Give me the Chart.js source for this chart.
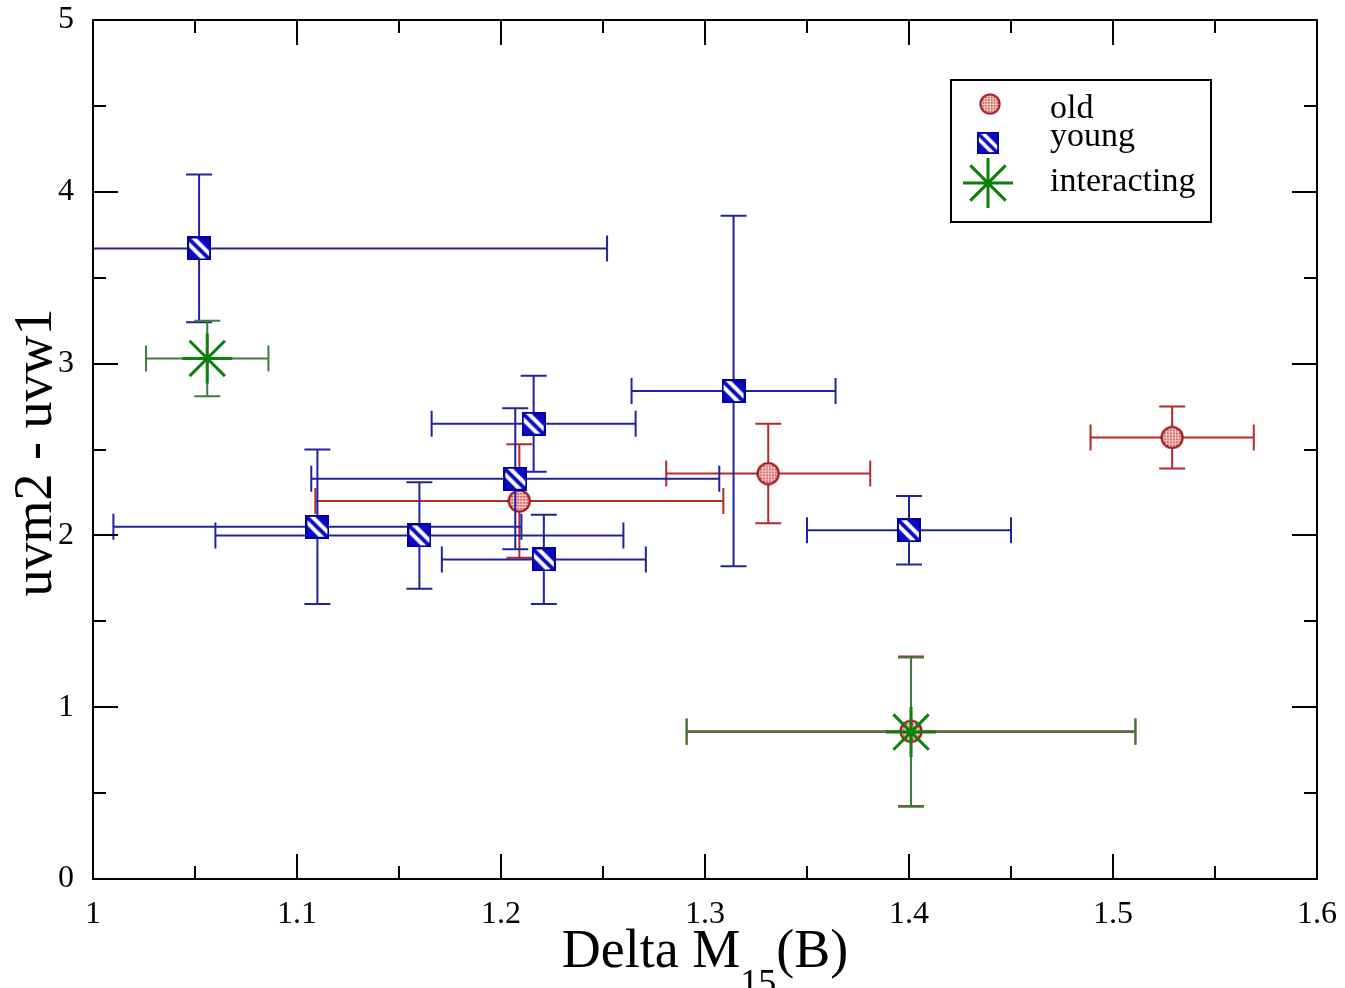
<!DOCTYPE html>
<html>
<head>
<meta charset="utf-8">
<script src="https://cdn.jsdelivr.net/npm/chart.js@4.4.1/dist/chart.umd.min.js"></script>
<style>
  body { margin: 0; background: #fff; }
  #wrap { width: 1345px; height: 988px; }
</style>
</head>
<body>
<div id="wrap"><canvas id="chart"></canvas></div>
<script>
// "old" galaxies
const oldX = [1.209, 1.331, 1.529, 1.401];
const oldY = [2.20, 2.36, 2.57, 0.86];
const oldXErr = [0.10, 0.05, 0.04, 0.11];
const oldYErr = [0.33, 0.29, 0.18, 0.435];

// "young"
const youngX = [1.052, 1.314, 1.216, 1.207, 1.110, 1.160, 1.221, 1.400];
const youngY = [3.67, 2.84, 2.65, 2.33, 2.05, 2.00, 1.86, 2.03];
const youngXErr = [0.20, 0.05, 0.05, 0.10, 0.10, 0.10, 0.05, 0.05];
const youngYErr = [0.43, 1.02, 0.28, 0.41, 0.45, 0.31, 0.26, 0.20];

// "interacting"
const interX = [1.056, 1.401];
const interY = [3.03, 0.855];
const interXErr = [0.03, 0.11];
const interYErr = [0.22, 0.435];

// axes
const xTickValues = [1, 1.1, 1.2, 1.3, 1.4, 1.5, 1.6];
const xTickLabels = ['1', '1.1', '1.2', '1.3', '1.4', '1.5', '1.6'];
const xMinorTicks = [1.05, 1.15, 1.25, 1.35, 1.45, 1.55];
const yTickValues = [0, 1, 2, 3, 4, 5];
const yTickLabels = ['0', '1', '2', '3', '4', '5'];
const yMinorTicks = [0.5, 1.5, 2.5, 3.5, 4.5];

const SERIF = '"Liberation Serif", "Times New Roman", serif';

function toPoints(xs, ys) {
  return xs.map((x, i) => ({ x: x, y: ys[i] }));
}

// dotted pink circle
function makeOldMarker() {
  const c = document.createElement('canvas');
  c.width = c.height = 24;
  const g = c.getContext('2d');
  g.beginPath();
  g.arc(12, 12, 10.5, 0, Math.PI * 2);
  g.fillStyle = '#f4cdc8';
  g.fill();
  g.save();
  g.clip();
  g.fillStyle = '#c23a3a';
  for (let i = 1; i < 24; i += 3) {
    for (let j = 1; j < 24; j += 3) g.fillRect(i, j, 1.6, 1.6);
  }
  g.restore();
  g.lineWidth = 2.2;
  g.strokeStyle = '#9e1420';
  g.stroke();
  return c;
}

// blue square with white diagonal stripes
function makeYoungMarker() {
  const c = document.createElement('canvas');
  c.width = c.height = 24;
  const g = c.getContext('2d');
  g.fillStyle = '#0a0ac4';
  g.fillRect(1, 1, 22, 22);
  g.save();
  g.beginPath();
  g.rect(1, 1, 22, 22);
  g.clip();
  g.strokeStyle = '#ffffff';
  g.lineWidth = 4;
  [-6, 5].forEach(function (k) {
    g.beginPath();
    g.moveTo(k, 0);
    g.lineTo(k + 24, 24);
    g.stroke();
  });
  g.restore();
  g.lineWidth = 2;
  g.strokeStyle = '#0000a0';
  g.strokeRect(1, 1, 22, 22);
  return c;
}

const oldMarker = makeOldMarker();
const youngMarker = makeYoungMarker();

function drawStar(ctx, x, y, r, color, width) {
  ctx.save();
  ctx.strokeStyle = color;
  ctx.lineWidth = width;
  ctx.beginPath();
  for (let k = 0; k < 4; k++) {
    const a = k * Math.PI / 4;
    ctx.moveTo(x - Math.cos(a) * r, y - Math.sin(a) * r);
    ctx.lineTo(x + Math.cos(a) * r, y + Math.sin(a) * r);
  }
  ctx.stroke();
  ctx.restore();
}

// error bars, drawn just before each dataset's markers
const errorBars = {
  id: 'errorBars',
  beforeDatasetDraw(chart, args) {
    const ds = chart.data.datasets[args.index];
    const xs = chart.scales.x, ys = chart.scales.y;
    const area = chart.chartArea;
    const ctx = chart.ctx;
    const cap = 13;
    ctx.save();
    ctx.beginPath();
    ctx.rect(area.left, area.top, area.right - area.left, area.bottom - area.top);
    ctx.clip();
    ctx.strokeStyle = ds.errColor;
    ctx.lineWidth = 2;
    ds.data.forEach(function (p, i) {
      const px = xs.getPixelForValue(p.x);
      const py = ys.getPixelForValue(p.y);
      const x0 = xs.getPixelForValue(p.x - ds.xErr[i]);
      const x1 = xs.getPixelForValue(p.x + ds.xErr[i]);
      const y0 = ys.getPixelForValue(p.y - ds.yErr[i]);
      const y1 = ys.getPixelForValue(p.y + ds.yErr[i]);
      ctx.beginPath();
      ctx.moveTo(x0, py); ctx.lineTo(x1, py);
      ctx.moveTo(x0, py - cap); ctx.lineTo(x0, py + cap);
      ctx.moveTo(x1, py - cap); ctx.lineTo(x1, py + cap);
      ctx.moveTo(px, y0); ctx.lineTo(px, y1);
      ctx.moveTo(px - cap, y0); ctx.lineTo(px + cap, y0);
      ctx.moveTo(px - cap, y1); ctx.lineTo(px + cap, y1);
      ctx.stroke();
    });
    ctx.restore();
  }
};

// frame, inward ticks on all sides, axis titles, legend box
const decorations = {
  id: 'decorations',
  afterDraw(chart) {
    const ctx = chart.ctx;
    const a = chart.chartArea;
    const xs = chart.scales.x, ys = chart.scales.y;
    const major = 25, minor = 13;

    ctx.save();
    ctx.strokeStyle = '#000';
    ctx.lineWidth = 2;
    ctx.strokeRect(a.left, a.top, a.right - a.left, a.bottom - a.top);

    ctx.beginPath();
    function xTick(v, len) {
      const p = Math.round(xs.getPixelForValue(v));
      ctx.moveTo(p, a.bottom); ctx.lineTo(p, a.bottom - len);
      ctx.moveTo(p, a.top); ctx.lineTo(p, a.top + len);
    }
    function yTick(v, len) {
      const p = Math.round(ys.getPixelForValue(v));
      ctx.moveTo(a.left, p); ctx.lineTo(a.left + len, p);
      ctx.moveTo(a.right, p); ctx.lineTo(a.right - len, p);
    }
    xTickValues.forEach(v => xTick(v, major));
    xMinorTicks.forEach(v => xTick(v, minor));
    yTickValues.forEach(v => yTick(v, major));
    yMinorTicks.forEach(v => yTick(v, minor));
    ctx.stroke();

    // y title
    ctx.fillStyle = '#000';
    ctx.save();
    ctx.translate(51, (a.top + a.bottom) / 2 + 3);
    ctx.rotate(-Math.PI / 2);
    ctx.font = '54px ' + SERIF;
    ctx.textAlign = 'center';
    ctx.textBaseline = 'alphabetic';
    ctx.fillText('uvm2 - uvw1', 0, 0);
    ctx.restore();

    // x title with subscript
    const bigFont = '54px ' + SERIF, subFont = '36px ' + SERIF;
    ctx.textBaseline = 'alphabetic';
    ctx.textAlign = 'left';
    ctx.font = bigFont;
    const w1 = ctx.measureText('Delta M').width;
    const w3 = ctx.measureText('(B)').width;
    ctx.font = subFont;
    const w2 = ctx.measureText('15').width;
    let tx = (a.left + a.right) / 2 - (w1 + w2 + w3) / 2;
    ctx.font = bigFont;
    ctx.fillText('Delta M', tx, 967);
    tx += w1;
    ctx.font = subFont;
    ctx.fillText('15', tx, 994);
    tx += w2;
    ctx.font = bigFont;
    ctx.fillText('(B)', tx, 967);

    // legend
    ctx.lineWidth = 2;
    ctx.strokeStyle = '#000';
    ctx.fillStyle = '#fff';
    ctx.fillRect(951, 80, 260, 142);
    ctx.strokeRect(951, 80, 260, 142);
    const ds = chart.data.datasets;
    ctx.drawImage(oldMarker, 990 - 11, 104 - 11, 22, 22);
    ctx.drawImage(youngMarker, 988 - 11, 143 - 11, 22, 22);
    drawStar(ctx, 988, 183, 25, ds[2].borderColor, 3);
    ctx.fillStyle = '#000';
    ctx.font = '34px ' + SERIF;
    ctx.fillText(ds[0].label, 1050, 118);
    ctx.fillText(ds[1].label, 1050, 146);
    ctx.fillText(ds[2].label, 1050, 191);
    ctx.restore();
  }
};

const tickFont = { family: SERIF, size: 32 };

new Chart(document.getElementById('chart'), {
  type: 'scatter',
  data: {
    datasets: [
      {
        label: 'old',
        data: toPoints(oldX, oldY),
        xErr: oldXErr, yErr: oldYErr,
        errColor: '#b52a2a',
        pointStyle: oldMarker,
        order: 3
      },
      {
        label: 'young',
        data: toPoints(youngX, youngY),
        xErr: youngXErr, yErr: youngYErr,
        errColor: '#22229a',
        pointStyle: youngMarker,
        order: 2
      },
      {
        label: 'interacting',
        data: toPoints(interX, interY),
        xErr: interXErr, yErr: interYErr,
        errColor: '#3d7d3d',
        pointStyle: 'star',
        pointRadius: 25,
        borderColor: '#0b800b',
        backgroundColor: '#0b800b',
        borderWidth: 3,
        order: 1
      }
    ]
  },
  options: {
    responsive: true,
    maintainAspectRatio: false,
    animation: false,
    events: [],
    layout: { autoPadding: false, padding: { top: 20, right: 28, left: 0, bottom: 0 } },
    plugins: {
      legend: { display: false },
      tooltip: { enabled: false }
    },
    scales: {
      x: {
        type: 'linear',
        min: 1, max: 1.6,
        grid: { display: false },
        border: { display: false },
        ticks: {
          font: tickFont, color: '#000', padding: 8,
          maxRotation: 0, autoSkip: false,
          callback: (v, i) => xTickLabels[i]
        },
        afterBuildTicks: s => { s.ticks = xTickValues.map(v => ({ value: v })); },
        afterFit: s => { s.height = 109; s.paddingLeft = 0; s.paddingRight = 0; }
      },
      y: {
        type: 'linear',
        min: 0, max: 5,
        grid: { display: false },
        border: { display: false },
        ticks: {
          font: tickFont, color: '#000', padding: 11,
          autoSkip: false,
          callback: (v, i) => yTickLabels[i]
        },
        afterBuildTicks: s => { s.ticks = yTickValues.map(v => ({ value: v })); },
        afterFit: s => { s.width = 93; s.paddingTop = 0; s.paddingBottom = 0; }
      }
    }
  },
  plugins: [errorBars, decorations]
});
</script>
</body>
</html>
